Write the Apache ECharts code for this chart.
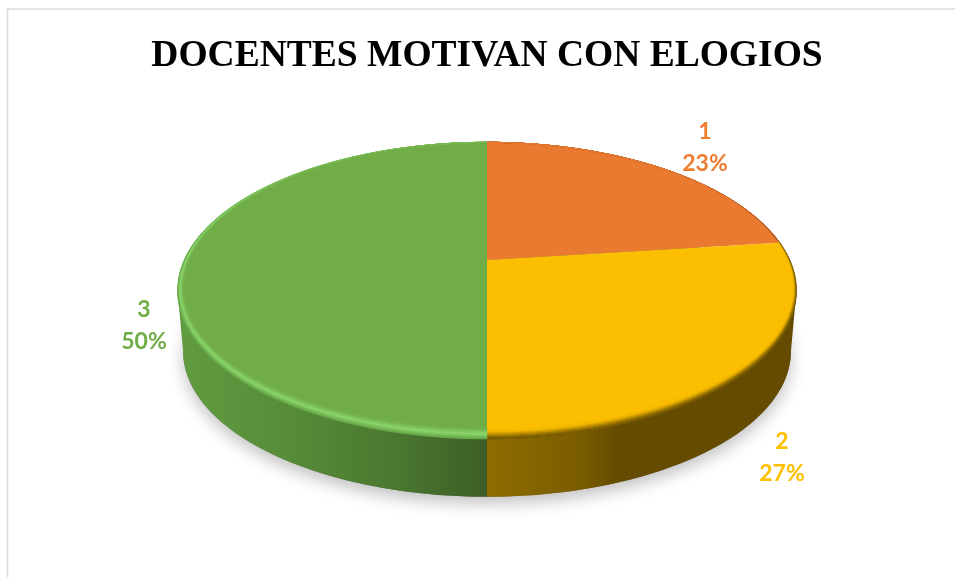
<!DOCTYPE html>
<html>
<head>
<meta charset="utf-8">
<style>html,body{margin:0;padding:0;background:#fff}#c{width:955px;height:577px}</style>
<script src="https://cdn.jsdelivr.net/npm/echarts@6/dist/echarts.min.js"></script>
</head>
<body>
<div id="c"></div>
<script>
const titleText = 'DOCENTES MOTIVAN CON ELOGIOS';
const categories = ['1', '2', '3'];
const values = [23, 27, 50];

const faceColors = ['#EB7A31', '#FBBE00', '#70AD47'];
const labelColors = ['#ED7D31', '#FFC000', '#70AD47'];
const labelAnchors = [[705, 148], [782, 458], [144, 326]];
const bevelStops = [
  [[0, [235,122,49]], [1, [150,80,30]]],
  [[0, [251,190,0]], [0.3, [242,182,0]], [0.75, [140,105,0]], [1, [101,76,0]]],
  [[0, [112,173,71]], [0.5, [140,214,110]], [1, [98,162,68]]]
];
const sideStops = [
  null,
  [[0, '#8E6D00'], [0.3, '#7A5C00'], [0.42, '#654C00'], [1, '#644B00']],
  [[0, '#609C40'], [0.35, '#578D39'], [0.7, '#4B7830'], [1, '#3C5E26']]
];

// projection of the pie plane (perspective ellipse)
const P = { x0: 487, y0: 260, a: 302.8, b: 142, p: 0.2068, depth: 61, shrink: 0.982, bevel: 11 };
const VIS_FROM = 102, VIS_TO = 258;

function proj(deg, scale, dy) {
  const t = deg * Math.PI / 180, d = 1 + P.p * Math.cos(t);
  return [P.x0 + scale * P.a * Math.sin(t) / d, P.y0 + scale * P.b * -Math.cos(t) / d + dy];
}
function arc(from, to, fn) {
  const out = [], n = Math.max(2, Math.ceil(Math.abs(to - from) / 1.5));
  for (let i = 0; i <= n; i++) out.push(fn(from + (to - from) * i / n));
  return out;
}
function bevelAt(deg) {
  const w = 0.5 - 0.5 * Math.cos(deg * Math.PI / 180);
  return P.bevel * (deg < 180 ? Math.pow(w, 1.8) : Math.pow(w, 1.1));
}
function insetPoint(deg, u) {
  const w = bevelAt(deg) * u;
  const rad = deg * Math.PI / 180;
  const q = proj(deg, 1, 0);
  return [q[0] - w * Math.sin(rad), q[1] + w * Math.cos(rad)];
}
function mix(stops, t) {
  for (let i = 1; i < stops.length; i++) {
    if (t <= stops[i][0]) {
      const f = (t - stops[i-1][0]) / (stops[i][0] - stops[i-1][0]);
      const c = stops[i-1][1].map((v, k) => Math.round(v + (stops[i][1][k] - v) * f));
      return 'rgb(' + c.join(',') + ')';
    }
  }
  return 'rgb(' + stops[stops.length-1][1].join(',') + ')';
}

const total = values.reduce((s, v) => s + v, 0);
const data = values.map((v, i) => ({
  name: categories[i],
  value: [v, values.slice(0, i).reduce((s, x) => s + x, 0)]
}));

function renderSlice(params, api) {
  const i = params.dataIndex;
  const from = api.value(1) / total * 360;
  const to = (api.value(1) + api.value(0)) / total * 360;
  const children = [];
  // outer wall
  const a = Math.max(from, VIS_FROM), b = Math.min(to, VIS_TO);
  if (b > a && sideStops[i]) {
    const upper = arc(a, b, d => proj(d, 1, 0));
    const lower = arc(b, a, d => proj(d, P.shrink, P.depth));
    children.push({
      type: 'polygon',
      shape: { points: upper.concat(lower) },
      style: {
        fill: new echarts.graphic.LinearGradient(0, 0, 1, 0,
          sideStops[i].map(s => ({ offset: s[0], color: s[1] }))),
        stroke: null
      }
    });
  }
  // top face
  const face = [[P.x0, P.y0]].concat(arc(from, to, d => proj(d, 1, 0)));
  children.push({ type: 'polygon', shape: { points: face }, style: { fill: faceColors[i] } });
  // bevel bands along the front rim: u = 0 at the rim, u = 1 where it meets the face
  const steps = 11;
  for (let k = 0; k < steps; k++) {
    const u0 = k / steps, u1 = (k + 1) / steps;
    const outer = arc(from, to, d => insetPoint(d, u0));
    const inner = arc(to, from, d => insetPoint(d, u1));
    const col = mix(bevelStops[i], 1 - (u0 + u1) / 2);
    children.push({
      type: 'polygon',
      shape: { points: outer.concat(inner) },
      style: { fill: col, stroke: col, lineWidth: 0.6 }
    });
  }
  // label
  children.push({
    type: 'text',
    style: {
      x: labelAnchors[i][0], y: labelAnchors[i][1],
      text: categories[i] + '\n' + Math.round(api.value(0) / total * 100) + '%',
      fill: labelColors[i],
      font: 'bold 23px Lato',
      lineHeight: 32,
      align: 'center',
      verticalAlign: 'middle'
    }
  });
  return { type: 'group', children };
}

function renderShadow() {
  const pts = arc(0, 360, d => proj(d, P.shrink, P.depth));
  return {
    type: 'polygon',
    shape: { points: pts },
    style: { fill: '#777', shadowColor: 'rgba(0,0,0,0.24)', shadowBlur: 16, shadowOffsetY: 7 }
  };
}

const chart = echarts.init(document.getElementById('c'), null, { renderer: 'canvas' });
chart.setOption({
  animation: false,
  backgroundColor: '#fff',
  title: {
    text: titleText,
    left: 482, top: 32, textAlign: 'center',
    textStyle: { fontFamily: 'Liberation Serif', fontWeight: 'bold', fontSize: 37.5, color: '#000' }
  },
  graphic: [{
    type: 'rect', silent: true, z: -10,
    shape: { x: 7.5, y: 9, width: 1200, height: 1000 },
    style: { fill: 'none', stroke: '#DDDDDD', lineWidth: 1.6 }
  }],
  series: [
    { type: 'custom', coordinateSystem: 'none', silent: true, z: 1, data: [1], renderItem: renderShadow },
    { type: 'custom', coordinateSystem: 'none', silent: true, z: 2, data: data, renderItem: renderSlice,
      dimensions: ['value', 'start'] }
  ]
});
</script>
</body>
</html>
